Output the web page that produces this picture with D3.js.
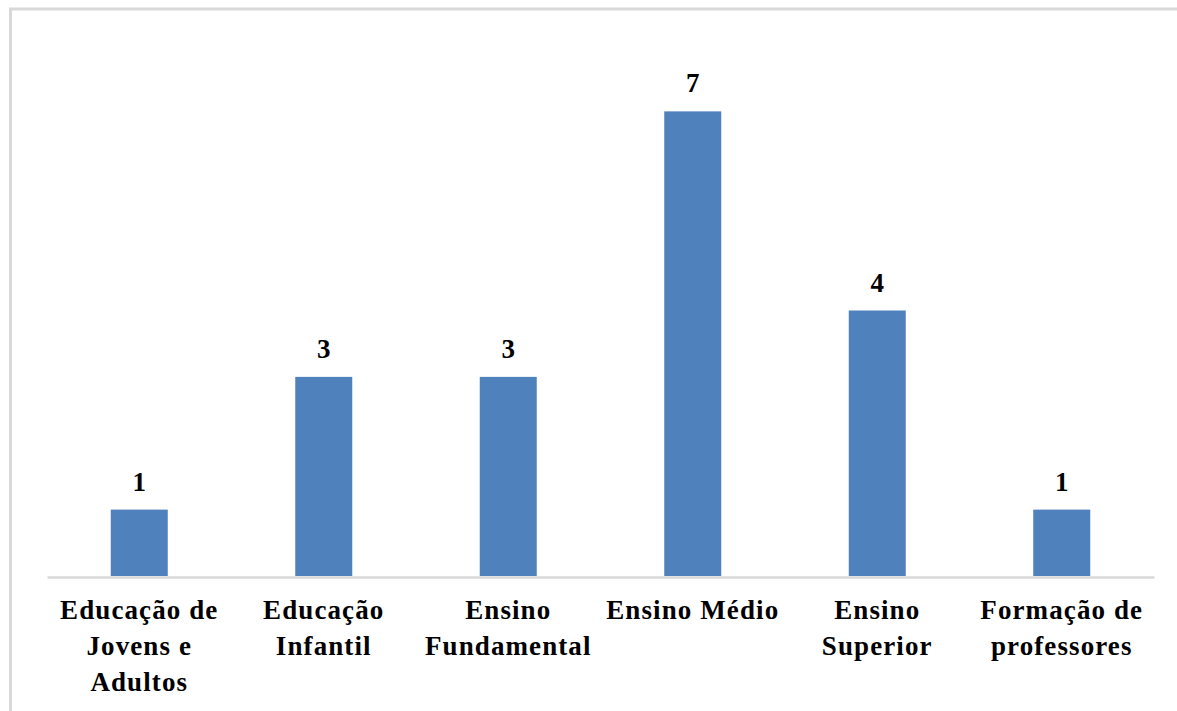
<!DOCTYPE html>
<html><head><meta charset="utf-8">
<script src="https://cdn.jsdelivr.net/npm/d3@7"></script>
<style>html,body{margin:0;padding:0;background:#fff;}svg{display:block;}</style>
</head><body>
<svg id="chart" width="1177" height="711"></svg>
<script>
const categories = [
  ["Educação de", "Jovens e", "Adultos"],
  ["Educação", "Infantil"],
  ["Ensino", "Fundamental"],
  ["Ensino Médio"],
  ["Ensino", "Superior"],
  ["Formação de", "professores"]
];
const values = [1, 3, 3, 7, 4, 1];
const categoryKeys = ["EJA", "EI", "EF", "EM", "ES", "FP"];

(function () {
const svg = d3.select("#chart");
const W = 1177, H = 711;
const plotLeft = 47, plotRight = 1154, plotTop = 45, plotBase = 576;
const fontFam = "'Liberation Serif', 'Times New Roman', serif";

// frame
svg.append("line").attr("x1", 9).attr("x2", W).attr("y1", 9).attr("y2", 9)
  .attr("stroke", "#d9d9d9").attr("stroke-width", 3);
svg.append("line").attr("x1", 10.5).attr("x2", 10.5).attr("y1", 8).attr("y2", H)
  .attr("stroke", "#d9d9d9").attr("stroke-width", 3);

const x = d3.scaleBand().domain(categoryKeys).range([plotLeft, plotRight]).paddingInner(0).paddingOuter(0);
const y = d3.scaleLinear().domain([0, 8]).range([plotBase, plotTop]);
const barW = 57;

svg.append("g").selectAll("rect").data(values).join("rect")
  .attr("x", (d, i) => x(categoryKeys[i]) + x.bandwidth() / 2 - barW / 2)
  .attr("width", barW)
  .attr("y", d => y(d))
  .attr("height", d => y(0) - y(d))
  .attr("fill", "#4f81bd");

// axis baseline
const axis = d3.axisBottom(x).tickSize(0).tickFormat("");
const ag = svg.append("g").attr("transform", `translate(0,${plotBase + 1})`).call(axis);
ag.select(".domain").attr("stroke", "#d9d9d9").attr("stroke-width", 2.5);

// value labels
svg.append("g").selectAll("text").data(values).join("text")
  .attr("x", (d, i) => x(categoryKeys[i]) + x.bandwidth() / 2)
  .attr("y", d => y(d) - 19)
  .attr("text-anchor", "middle")
  .attr("font-family", fontFam)
  .attr("font-weight", "bold")
  .attr("font-size", 27)
  .attr("fill", "#000")
  .text(d => d);

// category labels
const cg = svg.append("g");
categories.forEach((lines, i) => {
  const cx = x(categoryKeys[i]) + x.bandwidth() / 2;
  const t = cg.append("text")
    .attr("text-anchor", "middle")
    .attr("font-family", fontFam)
    .attr("font-weight", "bold")
    .attr("font-size", 27)
    .attr("letter-spacing", "1.1px")
    .attr("fill", "#000");
  lines.forEach((ln, j) => {
    t.append("tspan").attr("x", cx).attr("y", 619 + j * 36).text(ln);
  });
});
})();
</script>
</body></html>
